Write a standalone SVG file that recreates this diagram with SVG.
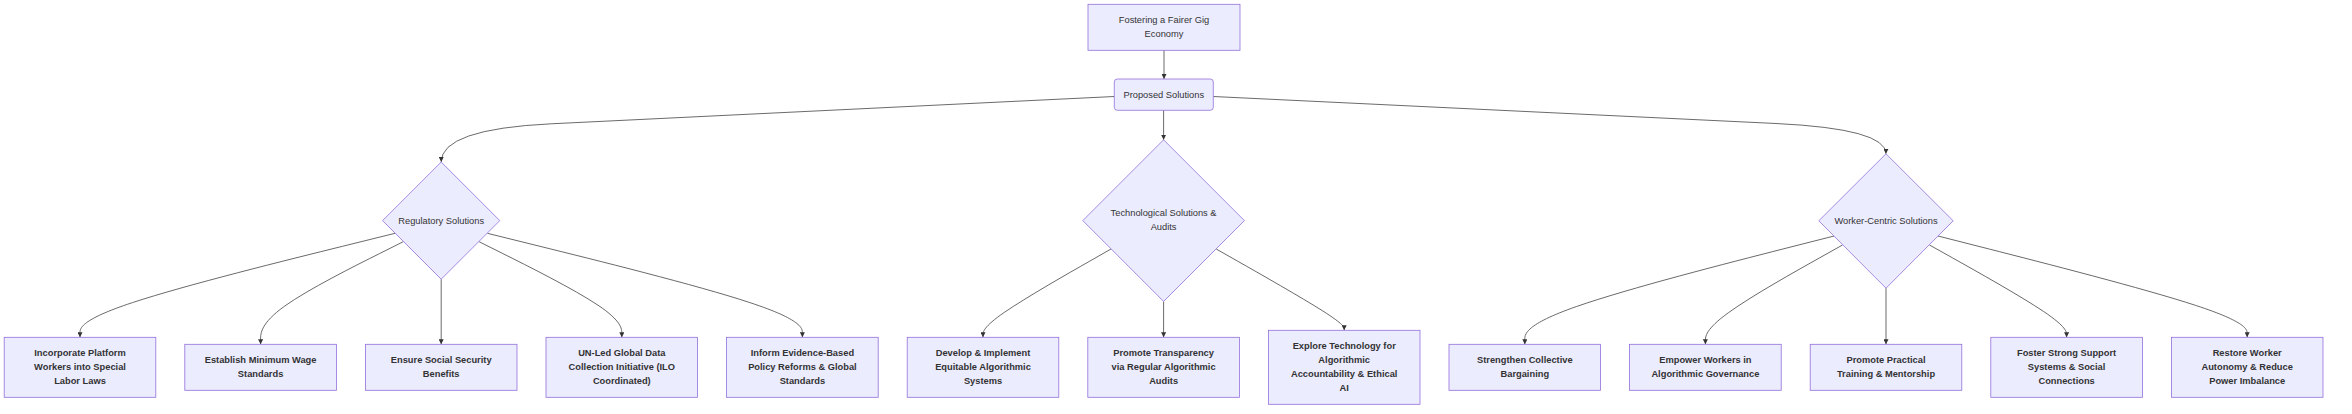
<svg xmlns="http://www.w3.org/2000/svg" width="2352" height="414" viewBox="0 0 2352 414">
<defs>
<marker id="arrow" viewBox="0 0 10 10" refX="10" refY="5" markerWidth="5" markerHeight="5" markerUnits="userSpaceOnUse" orient="auto">
<path d="M0,0 L10,5 L0,10 z" fill="#333"/>
</marker>
<style>
.node rect, .node polygon { fill: #ECECFF; stroke: #9370DB; stroke-width: 0.8; }
.node text { font-family: "Liberation Sans", Arial, sans-serif; font-size: 9.3px; fill: #333; text-anchor: middle; }
.leaf text { font-weight: bold; }
.edges path { fill: none; stroke: #444; stroke-width: 0.8; marker-end: url(#arrow); }
</style>
</defs>
<rect width="2352" height="414" fill="#ffffff"/>

<g class="edges" id="connectors">
<path d="M1164,50.3 L1164,79"/>
<path d="M1114.3,96.5 L551.2,123.8 Q441.2,129.1 441.2,162"/>
<path d="M1163.6,110.3 L1163.6,139.8"/>
<path d="M1213.3,96.5 L1776,123.5 Q1886,128.8 1886,153.8"/>
<path d="M395,233.3 L342.5,246.3 C290,259.3 185,285.2 132.5,302.6 C80,319.9 80,328.6 80,333 L80,337.3"/>
<path d="M403.3,241.7 L379.5,253.6 C355.7,265.5 308.2,289.2 284.4,306.3 C260.6,323.4 260.6,333.9 260.6,339.1 L260.6,344.3"/>
<path d="M441.2,279.2 L441.2,344.3"/>
<path d="M479.1,241.7 L502.9,253.6 C526.7,265.5 574.2,289.2 598,305.2 C621.8,321.1 621.8,329.2 621.8,333.3 L621.8,337.3"/>
<path d="M487.4,233.3 L539.9,246.3 C592.4,259.3 697.4,285.2 749.9,302.6 C802.4,319.9 802.4,328.6 802.4,333 L802.4,337.3"/>
<path d="M1111,249 L1089.7,261.2 C1068.3,273.3 1025.7,297.7 1004.3,312.4 C983,327.1 983,332.2 983,334.8 L983,337.3"/>
<path d="M1163.6,301.4 L1163.6,337.3"/>
<path d="M1216.2,249 L1237.5,261.1 C1258.9,273.2 1301.5,297.5 1322.9,311 C1344.2,324.6 1344.2,327.4 1344.2,328.9 L1344.2,330.3"/>
<path d="M1834,236 L1782.5,249.1 C1730.9,262.3 1627.9,288.5 1576.3,306.6 C1524.8,324.6 1524.8,334.5 1524.8,339.4 L1524.8,344.3"/>
<path d="M1842.5,245 L1819.7,257.8 C1796.8,270.6 1751.1,296.2 1728.3,312.8 C1705.4,329.3 1705.4,336.8 1705.4,340.6 L1705.4,344.3"/>
<path d="M1886,288.2 L1886,344.3"/>
<path d="M1929.5,245 L1952.4,257.8 C1975.2,270.6 2020.9,296.2 2043.8,311.6 C2066.6,327 2066.6,332.1 2066.6,334.7 L2066.6,337.3"/>
<path d="M1938,236 L1989.5,249.1 C2041.1,262.3 2144.1,288.5 2195.7,305.4 C2247.2,322.3 2247.2,329.8 2247.2,333.6 L2247.2,337.3"/>
</g>

<g class="node" id="root">
<rect x="1088" y="4.3" width="152" height="46"/>
<text x="1164" y="23.3">Fostering a Fairer Gig</text>
<text x="1164" y="37.3">Economy</text>
</g>
<g class="node" id="proposed">
<rect x="1114.3" y="79" width="99" height="31.3" rx="3" ry="3"/>
<text x="1163.8" y="97.9">Proposed Solutions</text>
</g>

<g class="node" id="regulatory">
<polygon points="441.2,162 499.8,220.6 441.2,279.2 382.6,220.6"/>
<text x="441.2" y="223.5">Regulatory Solutions</text>
</g>
<g class="node" id="technological">
<polygon points="1163.6,139.8 1244.4,220.6 1163.6,301.4 1082.8,220.6"/>
<text x="1163.6" y="216">Technological Solutions &amp;</text>
<text x="1163.6" y="230">Audits</text>
</g>
<g class="node" id="worker">
<polygon points="1886,153.8 1953.2,220.8 1886,288.2 1818.8,220.8"/>
<text x="1886" y="223.6">Worker-Centric Solutions</text>
</g>

<g class="node leaf" id="r1">
<rect x="4.2" y="337.3" width="151.6" height="60"/>
<text x="80" y="356">Incorporate Platform</text>
<text x="80" y="370">Workers into Special</text>
<text x="80" y="384">Labor Laws</text>
</g>
<g class="node leaf" id="r2">
<rect x="184.8" y="344.3" width="151.6" height="46"/>
<text x="260.6" y="363">Establish Minimum Wage</text>
<text x="260.6" y="377">Standards</text>
</g>
<g class="node leaf" id="r3">
<rect x="365.4" y="344.3" width="151.6" height="46"/>
<text x="441.2" y="363">Ensure Social Security</text>
<text x="441.2" y="377">Benefits</text>
</g>
<g class="node leaf" id="r4">
<rect x="546" y="337.3" width="151.6" height="60"/>
<text x="621.8" y="356">UN-Led Global Data</text>
<text x="621.8" y="370">Collection Initiative (ILO</text>
<text x="621.8" y="384">Coordinated)</text>
</g>
<g class="node leaf" id="r5">
<rect x="726.6" y="337.3" width="151.6" height="60"/>
<text x="802.4" y="356">Inform Evidence-Based</text>
<text x="802.4" y="370">Policy Reforms &amp; Global</text>
<text x="802.4" y="384">Standards</text>
</g>
<g class="node leaf" id="t1">
<rect x="907.2" y="337.3" width="151.6" height="60"/>
<text x="983" y="356">Develop &amp; Implement</text>
<text x="983" y="370">Equitable Algorithmic</text>
<text x="983" y="384">Systems</text>
</g>
<g class="node leaf" id="t2">
<rect x="1087.8" y="337.3" width="151.6" height="60"/>
<text x="1163.6" y="356">Promote Transparency</text>
<text x="1163.6" y="370">via Regular Algorithmic</text>
<text x="1163.6" y="384">Audits</text>
</g>
<g class="node leaf" id="t3">
<rect x="1268.4" y="330.3" width="151.6" height="74"/>
<text x="1344.2" y="349">Explore Technology for</text>
<text x="1344.2" y="363">Algorithmic</text>
<text x="1344.2" y="377">Accountability &amp; Ethical</text>
<text x="1344.2" y="391">AI</text>
</g>
<g class="node leaf" id="w1">
<rect x="1449" y="344.3" width="151.6" height="46"/>
<text x="1524.8" y="363">Strengthen Collective</text>
<text x="1524.8" y="377">Bargaining</text>
</g>
<g class="node leaf" id="w2">
<rect x="1629.6" y="344.3" width="151.6" height="46"/>
<text x="1705.4" y="363">Empower Workers in</text>
<text x="1705.4" y="377">Algorithmic Governance</text>
</g>
<g class="node leaf" id="w3">
<rect x="1810.2" y="344.3" width="151.6" height="46"/>
<text x="1886" y="363">Promote Practical</text>
<text x="1886" y="377">Training &amp; Mentorship</text>
</g>
<g class="node leaf" id="w4">
<rect x="1990.8" y="337.3" width="151.6" height="60"/>
<text x="2066.6" y="356">Foster Strong Support</text>
<text x="2066.6" y="370">Systems &amp; Social</text>
<text x="2066.6" y="384">Connections</text>
</g>
<g class="node leaf" id="w5">
<rect x="2171.4" y="337.3" width="151.6" height="60"/>
<text x="2247.2" y="356">Restore Worker</text>
<text x="2247.2" y="370">Autonomy &amp; Reduce</text>
<text x="2247.2" y="384">Power Imbalance</text>
</g>
</svg>
